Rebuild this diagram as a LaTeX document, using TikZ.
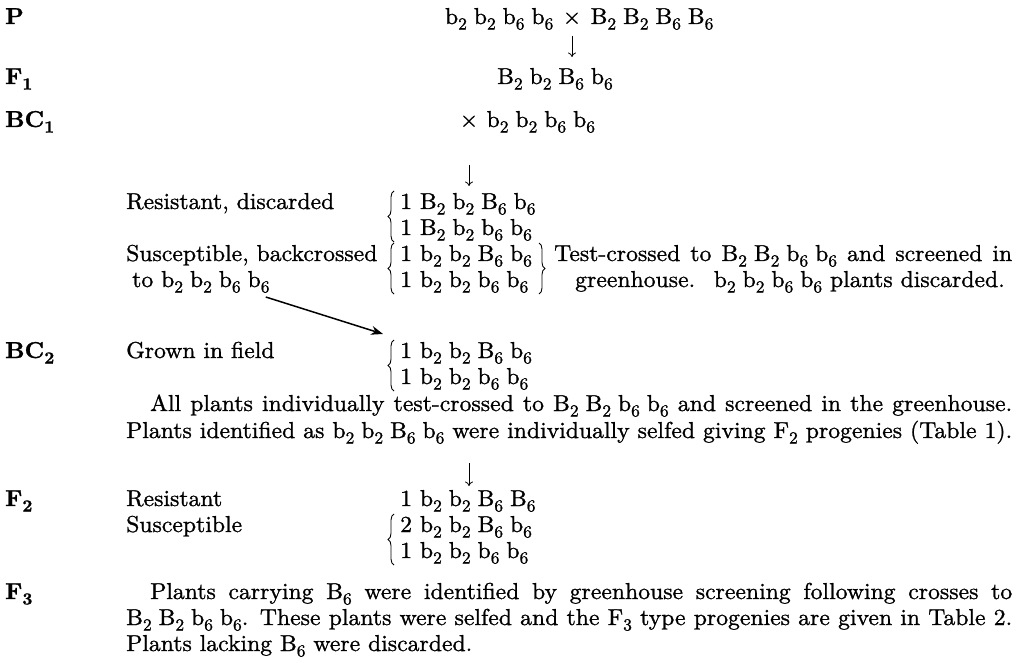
\documentclass[tikz,border=0pt]{standalone}
\usepackage{fontspec}
\setmainfont{lmroman10-regular.otf}[BoldFont=lmroman10-bold.otf, FakeStretch=1.03, FakeBold=1.1]
\usetikzlibrary{arrows.meta,decorations.pathreplacing}
\newcommand\sbx[1]{\raisebox{-0.24em}{\fontsize{17}{18}\selectfont #1}}
\newcommand\al[2]{#1\sbx{#2}}
\newcommand\gtyp[8]{\al{#1}{#2}\hspace{0.3em}\al{#3}{#4}\hspace{0.3em}\al{#5}{#6}\hspace{0.3em}\al{#7}{#8}}
\tikzset{
  txt/.style={anchor=base west, inner sep=0pt, font=\fontsize{23}{26}\selectfont},
  lbl/.style={anchor=base west, inner sep=0pt, font=\fontsize{23}{26}\selectfont\bfseries},
  darr/.style={-{Computer Modern Rightarrow[length=4.5pt,width=8pt]}, line width=0.8pt},
  bigarr/.style={-{Stealth[length=12pt,width=9pt]}, line width=1.5pt},
  brc/.style={decorate, decoration={brace, amplitude=6pt}, line width=0.9pt}
}
\begin{document}
\begin{tikzpicture}[x=1pt,y=-1pt]
\fill[white] (0,0) rectangle (1020,663);
\useasboundingbox (0,0) rectangle (1020,663);
% labels
\node[lbl] (lP)   at (5,24)  {P};
\node[lbl] (lF1)  at (5,84)  {\al{F}{1}};
\node[lbl] (lBC1) at (5,127) {\al{BC}{1}};
\node[lbl] (lBC2) at (5,358) {\al{BC}{2}};
\node[lbl] (lF2)  at (5,506) {\al{F}{2}};
\node[lbl] (lF3)  at (5,599) {\al{F}{3}};
% P, F1, BC1
\node[txt, anchor=base] (px) at (572,24) {×};
\node[txt, anchor=base east] (pl) at ([xshift=-9pt]px.base west) {\gtyp b2b2b6b6};
\node[txt, anchor=base west] (pr) at ([xshift=9pt]px.base east) {\gtyp B2B2B6B6};
\node[txt] (f1) at (497,84) {\gtyp B2b2B6b6};
\node[txt, anchor=base] (bx) at (469,127) {×};
\node[txt, anchor=base west] (bc1) at ([xshift=8pt]bx.base east) {\gtyp b2b2b6b6};
\coordinate (a1s) at ([shift={(0,12)}]px.base);
\coordinate (a1e) at ([shift={(0,33)}]px.base);
\draw[darr] (a1s) -- (a1e);
\coordinate (a2s) at ([shift={(0,38)}]bx.base);
\coordinate (a2e) at ([shift={(0,59)}]bx.base);
\draw[darr] (a2s) -- (a2e);
% BC1 progeny
\node[txt] (rlab) at (126,209) {Resistant, discarded};
\node[txt] (r1) at (400,209) {1 \gtyp B2b2B6b6};
\node[txt] (r2) at (400,235) {1 \gtyp B2b2b6b6};
\node[txt] (slab) at (126,261) {Susceptible, backcrossed};
\node[txt] (slab2) at (132,287) {to \gtyp b2b2b6b6};
\node[txt] (s1) at (400,261) {1 \gtyp b2b2B6b6};
\node[txt] (s2) at (400,287) {1 \gtyp b2b2b6b6};
\node[txt] (tc1) at (554,261) {\makebox[458pt][s]{Test-crossed to \gtyp B2B2b6b6 and screened in}};
\node[txt, anchor=base] (tc2) at (790,287) {greenhouse.\hspace{0.35em} \gtyp b2b2b6b6 plants discarded.};
\draw[brc] ([shift={(-6,7)}]r2.base west) -- ([shift={(-6,-18)}]r1.base west);
\draw[brc] ([shift={(-6,7)}]s2.base west) -- ([shift={(-6,-18)}]s1.base west);
\coordinate (rb) at (545,0);
\draw[brc] ([shift={(-6,-18)}]s1.base west -| rb) -- ([shift={(-6,7)}]s2.base west -| rb);
% BC2
\node[txt] (glab) at (126,358) {Grown in field};
\node[txt] (g1) at (400,358) {1 \gtyp b2b2B6b6};
\node[txt] (g2) at (400,384) {1 \gtyp b2b2b6b6};
\draw[brc] ([shift={(-6,7)}]g2.base west) -- ([shift={(-6,-18)}]g1.base west);
\coordinate (dstart) at ([shift={(-4,10)}]slab2.base east);
\coordinate (dend) at ([shift={(-17,-24)}]g1.base west);
\draw[bigarr] (dstart) -- (dend);
\node[txt] (all) at (150,411) {\makebox[862pt][s]{All plants individually test-crossed to \gtyp B2B2b6b6 and screened in the greenhouse.}};
\node[txt] (ident) at (126,438) {\makebox[886pt][s]{Plants identified as \gtyp b2b2B6b6 were individually selfed giving \al{F}{2} progenies (Table 1).}};
% F2
\coordinate (a3s) at (469,463);
\coordinate (a3e) at (469,486);
\draw[darr] (a3s) -- (a3e);
\node[txt] (f2r) at (126,506) {Resistant};
\node[txt] (f2a) at (400,506) {1 \gtyp b2b2B6B6};
\node[txt] (f2s) at (126,532) {Susceptible};
\node[txt] (f2b) at (400,532) {2 \gtyp b2b2B6b6};
\node[txt] (f2c) at (400,558) {1 \gtyp b2b2b6b6};
\draw[brc] ([shift={(-6,7)}]f2c.base west) -- ([shift={(-6,-18)}]f2b.base west);
% F3
\node[txt] (p1) at (150,599) {\makebox[862pt][s]{Plants carrying \al{B}{6} were identified by greenhouse screening following crosses to}};
\node[txt] (p2) at (126,625) {\makebox[886pt][s]{\gtyp B2B2b6b6. These plants were selfed and the \al{F}{3} type progenies are given in Table 2.}};
\node[txt] (p3) at (126,651) {Plants lacking \al{B}{6} were discarded.};
\end{tikzpicture}
\end{document}
